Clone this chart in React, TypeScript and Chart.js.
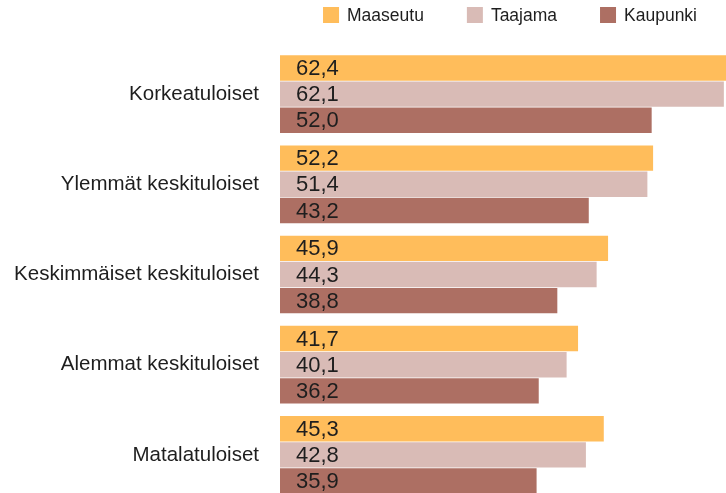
import React, { useEffect, useRef } from "react";
import { Chart, registerables } from "chart.js";

Chart.register(...registerables);

const categories = [
  "Korkeatuloiset",
  "Ylemmät keskituloiset",
  "Keskimmäiset keskituloiset",
  "Alemmat keskituloiset",
  "Matalatuloiset",
];
const seriesNames = ["Maaseutu", "Taajama", "Kaupunki"];
const maaseutu = [62.4, 52.2, 45.9, 41.7, 45.3];
const taajama = [62.1, 51.4, 44.3, 40.1, 42.8];
const kaupunki = [52.0, 43.2, 38.8, 36.2, 35.9];
const colors = ["#FFBD5B", "#D9BBB6", "#AD6F63"];

const FONT = "'Liberation Sans', Arial, sans-serif";
const TEXT = "#1e1e1e";

const valueLabels = {
  id: "valueLabels",
  afterDatasetsDraw(chart: any) {
    const ctx = chart.ctx;
    const x0 = chart.scales.x.getPixelForValue(0);
    ctx.save();
    ctx.font = `22px ${FONT}`;
    ctx.fillStyle = TEXT;
    ctx.textBaseline = "middle";
    ctx.textAlign = "left";
    chart.data.datasets.forEach((ds: any, i: number) => {
      const meta = chart.getDatasetMeta(i);
      meta.data.forEach((bar: any, j: number) => {
        const v = ds.data[j] as number;
        ctx.fillText(v.toFixed(1).replace(".", ","), x0 + 16, bar.y + 1);
      });
    });
    ctx.restore();
  },
};

const customLegend = {
  id: "customLegend",
  afterDraw(chart: any) {
    const ctx = chart.ctx;
    ctx.save();
    ctx.font = `17.5px ${FONT}`;
    ctx.textBaseline = "middle";
    const box = 16;
    const gapText = 8;
    const gapItem = 43;
    const endX = 697;
    const cy = 15;
    const widths = seriesNames.map((n) => box + gapText + ctx.measureText(n).width);
    const total = widths.reduce((a, b) => a + b, 0) + gapItem * (widths.length - 1);
    let x = endX - total;
    seriesNames.forEach((n, i) => {
      ctx.fillStyle = colors[i];
      ctx.fillRect(x, cy - box / 2, box, box);
      ctx.fillStyle = TEXT;
      ctx.textAlign = "left";
      ctx.fillText(n, x + box + gapText, cy + 1);
      x += widths[i] + gapItem;
    });
    ctx.restore();
  },
};

export default function App() {
  const ref = useRef<HTMLCanvasElement>(null);
  useEffect(() => {
    document.body.style.margin = "0";
    const chart = new Chart(ref.current!, {
      type: "bar",
      data: {
        labels: categories,
        datasets: [maaseutu, taajama, kaupunki].map((d, i) => ({
          label: seriesNames[i],
          data: d,
          backgroundColor: colors[i],
          borderWidth: 0,
          barPercentage: 0.97,
          categoryPercentage: 0.87,
        })),
      },
      options: {
        indexAxis: "y",
        responsive: true,
        maintainAspectRatio: false,
        animation: false,
        layout: { autoPadding: false, padding: { top: 49, right: 0, bottom: 0, left: 0 } },
        plugins: {
          legend: { display: false },
          tooltip: { enabled: false },
        },
        scales: {
          x: { display: false, min: 0, max: 62.4 },
          y: {
            grid: { display: false, drawTicks: false },
            border: { display: false },
            ticks: {
              padding: 21,
              color: TEXT,
              font: { family: FONT, size: 20.5 },
            },
            afterFit(scale: any) {
              scale.width = 280;
              scale.paddingTop = 0;
              scale.paddingBottom = 0;
            },
          },
        },
      },
      plugins: [valueLabels, customLegend],
    });
    return () => chart.destroy();
  }, []);
  return (
    <div style={{ width: 726, height: 493, overflow: "hidden" }}>
      <div style={{ position: "relative", width: 726, height: 500 }}>
        <canvas ref={ref} />
      </div>
    </div>
  );
}
